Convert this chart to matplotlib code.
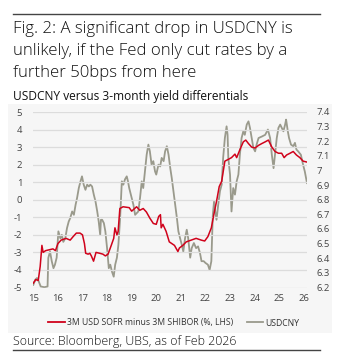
import matplotlib
matplotlib.use("Agg")
import matplotlib.pyplot as plt
from matplotlib.patches import Rectangle
from matplotlib.lines import Line2D
from matplotlib.ticker import FuncFormatter

plt.rcParams['font.family'] = ['Open Sans', 'DejaVu Sans']
plt.rcParams['axes.unicode_minus'] = False

# 3M USD SOFR minus 3M SHIBOR (%), left axis
spread_t = [2015.00, 2015.10, 2015.20, 2015.28, 2015.35, 2015.40, 2015.50, 2015.65, 2015.80, 2015.90,
            2016.00, 2016.13, 2016.33, 2016.50, 2016.62, 2016.75, 2016.90, 2017.00, 2017.08, 2017.13,
            2017.23, 2017.30, 2017.36, 2017.45, 2017.55, 2017.70, 2017.83, 2017.93, 2018.04, 2018.17,
            2018.27, 2018.32, 2018.40, 2018.45, 2018.52, 2018.65, 2018.90, 2019.00, 2019.20, 2019.33,
            2019.47, 2019.60, 2019.74, 2019.88, 2020.00, 2020.10, 2020.17, 2020.20, 2020.27, 2020.40,
            2020.53, 2020.74, 2020.88, 2020.94, 2021.08, 2021.22, 2021.42, 2021.62, 2021.83, 2021.97,
            2022.10, 2022.24, 2022.34, 2022.45, 2022.56, 2022.66, 2022.79, 2022.93, 2023.06, 2023.20,
            2023.27, 2023.40, 2023.54, 2023.64, 2023.75, 2023.88, 2024.02, 2024.16, 2024.29, 2024.43,
            2024.56, 2024.70, 2024.83, 2024.97, 2025.10, 2025.20, 2025.30, 2025.44, 2025.57, 2025.70,
            2025.84, 2025.97, 2026.12]
spread = [-4.75, -4.55, -4.6, -3.8, -2.6, -3.0, -2.9, -2.85, -2.8, -2.9,
          -2.5, -2.3, -2.2, -2.3, -2.1, -1.9, -1.9, -2.0, -2.5, -3.05,
          -3.1, -3.05, -3.2, -3.5, -3.0, -3.05, -3.1, -3.2, -3.1, -2.6,
          -2.2, -1.6, -2.0, -1.8, -0.5, -0.4, -0.45, -0.65, -0.4, -0.6,
          -0.5, -0.7, -1.05, -1.35, -1.4, -0.95, -0.85, -1.6, -1.4, -1.8,
          -2.4, -2.6, -2.95, -2.75, -2.6, -2.4, -2.3, -2.2, -2.3, -2.35,
          -2.1, -1.6, -0.85, -0.1, 0.75, 1.05, 2.2, 2.3, 2.4, 2.6,
          2.4, 2.85, 3.3, 3.4, 3.2, 3.0, 2.95, 3.1, 3.2, 3.3,
          3.4, 3.0, 2.75, 2.65, 2.65, 2.4, 2.55, 2.65, 2.75, 2.55,
          2.4, 2.2, 2.15]

# USDCNY spot, right axis
fx_t = [2015.00, 2015.08, 2015.15, 2015.22, 2015.30, 2015.45, 2015.58, 2015.61, 2015.68, 2015.75,
        2015.82, 2015.88, 2015.95, 2016.02, 2016.10, 2016.16, 2016.22, 2016.30, 2016.37, 2016.44,
        2016.50, 2016.58, 2016.65, 2016.72, 2016.78, 2016.85, 2016.92, 2016.98, 2017.05, 2017.12,
        2017.19, 2017.26, 2017.32, 2017.39, 2017.46, 2017.53, 2017.60, 2017.66, 2017.72, 2017.75,
        2017.80, 2017.87, 2017.93, 2018.00, 2018.07, 2018.13, 2018.20, 2018.27, 2018.33, 2018.40,
        2018.46, 2018.53, 2018.60, 2018.66, 2018.73, 2018.80, 2018.85, 2018.90, 2019.00, 2019.07,
        2019.14, 2019.27, 2019.34, 2019.41, 2019.47, 2019.54, 2019.61, 2019.68, 2019.74, 2019.81,
        2019.88, 2019.95, 2020.00, 2020.09, 2020.16, 2020.22, 2020.30, 2020.36, 2020.43, 2020.50,
        2020.57, 2020.63, 2020.70, 2020.77, 2020.84, 2020.90, 2020.97, 2021.04, 2021.10, 2021.17,
        2021.24, 2021.30, 2021.38, 2021.44, 2021.53, 2021.62, 2021.70, 2021.78, 2021.84, 2021.93,
        2022.00, 2022.10, 2022.17, 2022.24, 2022.30, 2022.35, 2022.40, 2022.45, 2022.52, 2022.59,
        2022.66, 2022.72, 2022.79, 2022.86, 2022.90, 2022.93, 2023.00, 2023.06, 2023.13, 2023.20,
        2023.27, 2023.34, 2023.40, 2023.47, 2023.54, 2023.60, 2023.68, 2023.75, 2023.81, 2023.88,
        2023.95, 2024.02, 2024.08, 2024.16, 2024.29, 2024.43, 2024.54, 2024.63, 2024.70, 2024.77,
        2024.83, 2024.90, 2024.97, 2025.04, 2025.10, 2025.17, 2025.24, 2025.28, 2025.35, 2025.40,
        2025.48, 2025.57, 2025.64, 2025.70, 2025.77, 2025.88, 2025.97, 2026.04, 2026.13]
fx = [6.218, 6.253, 6.265, 6.242, 6.207, 6.202, 6.207, 6.402, 6.446, 6.380,
      6.332, 6.356, 6.404, 6.584, 6.536, 6.560, 6.512, 6.536, 6.606, 6.651,
      6.674, 6.720, 6.697, 6.766, 6.812, 6.880, 6.926, 6.960, 6.903, 6.868,
      6.903, 6.891, 6.903, 6.891, 6.835, 6.788, 6.720, 6.651, 6.560, 6.663,
      6.663, 6.640, 6.584, 6.469, 6.332, 6.356, 6.308, 6.274, 6.356, 6.404,
      6.492, 6.674, 6.926, 6.903, 6.940, 6.960, 6.926, 6.880, 6.812, 6.766,
      6.697, 6.720, 6.812, 6.926, 6.880, 6.994, 7.108, 7.177, 7.131, 7.040,
      7.064, 6.994, 6.972, 7.040, 7.028, 7.086, 7.064, 7.131, 7.166, 7.108,
      7.016, 6.949, 6.858, 6.766, 6.674, 6.584, 6.536, 6.492, 6.446, 6.536,
      6.595, 6.536, 6.404, 6.469, 6.504, 6.469, 6.481, 6.434, 6.380, 6.380,
      6.368, 6.356, 6.320, 6.380, 6.697, 6.788, 6.720, 6.663, 6.766, 6.858,
      6.903, 7.086, 7.222, 7.302, 7.244, 7.086, 6.972, 6.720, 6.880, 6.835,
      6.926, 6.972, 7.108, 7.222, 7.268, 7.244, 7.314, 7.336, 7.292, 7.222,
      7.154, 7.131, 7.177, 7.222, 7.232, 7.244, 7.280, 7.222, 7.108, 7.016,
      7.108, 7.222, 7.292, 7.314, 7.292, 7.268, 7.314, 7.348, 7.268, 7.222,
      7.177, 7.166, 7.189, 7.143, 7.131, 7.108, 7.040, 6.994, 6.914]

year_ticks = list(range(2015, 2027))
left_ticks = list(range(-5, 6))
right_ticks = [6.2, 6.3, 6.4, 6.5, 6.6, 6.7, 6.8, 6.9, 7.0, 7.1, 7.2, 7.3, 7.4]

RED = '#d0021b'
GREY = '#9a9a8c'
W, H = 346, 357

fig = plt.figure(figsize=(W / 100, H / 100), dpi=100)

# light panel behind the chart
fig.patches.append(Rectangle((8 / W, 1 - 333 / H), 324 / W, 229 / H,
                             transform=fig.transFigure, facecolor='#f6f6f6',
                             edgecolor='none', zorder=-10))

# rules above the title and under the source
for yy in (14, 350):
    fig.add_artist(Line2D([13 / W, 320 / W], [1 - yy / H] * 2,
                          transform=fig.transFigure, color='#444444', lw=1.0))

title_lines = ['Fig. 2: A significant drop in USDCNY is',
               'unlikely, if the Fed only cut rates by a',
               'further 50bps from here']
for i, line in enumerate(title_lines):
    fig.text(13 / W, 1 - (33 + 22 * i) / H, line, fontsize=12.1, color='#111111',
             fontweight='light', va='baseline', ha='left')
fig.text(13 / W, 1 - 100 / H, 'USDCNY versus 3-month yield differentials',
         fontsize=8.6, color='#111111', va='baseline', ha='left')
fig.text(13 / W, 1 - 345 / H, 'Source: Bloomberg, UBS, as of Feb 2026',
         fontsize=8.9, color='#111111', fontweight='light', va='baseline', ha='left')

ax = fig.add_axes([33.3 / W, 1 - 287.5 / H, 273.7 / W, 175.5 / H])
ax.set_facecolor('none')
ax2 = ax.twinx()

ax2.plot(fx_t, fx, color=GREY, lw=1.3, zorder=2)
ax.plot(spread_t, spread, color=RED, lw=1.1, zorder=3)
ax.set_zorder(ax2.get_zorder() + 1)

ax.set_xlim(2015, 2026.13)
ax.set_ylim(-5, 5)
ax2.set_ylim(6.2, 7.4)
ax.set_yticks(left_ticks)
ax2.set_yticks(right_ticks)
ax2.yaxis.set_major_formatter(FuncFormatter(lambda v, p: f'{v:g}'))
ax.set_xticks(year_ticks)
ax.set_xticklabels([str(y % 100) for y in year_ticks])

ax.grid(axis='y', color='#dcdcdc', lw=0.9)
ax.set_axisbelow(True)
for a in (ax, ax2):
    for s in a.spines.values():
        s.set_visible(False)
    a.tick_params(length=0, labelsize=6.8, colors='#444444')
ax.tick_params(axis='y', pad=8)
ax.tick_params(axis='x', pad=5)
ax2.tick_params(axis='y', pad=7)

handles = [Line2D([], [], color=RED, lw=1.3), Line2D([], [], color=GREY, lw=1.3)]
fig.legend(handles, ['3M USD SOFR minus 3M SHIBOR (%, LHS)', 'USDCNY'],
           loc='center', bbox_to_anchor=(174 / W, 1 - 323 / H), ncol=2,
           frameon=False, fontsize=6.2, handlelength=1.9, handletextpad=0.25,
           columnspacing=1.6, labelcolor='#333333')

fig.savefig('out.png', dpi=100)
